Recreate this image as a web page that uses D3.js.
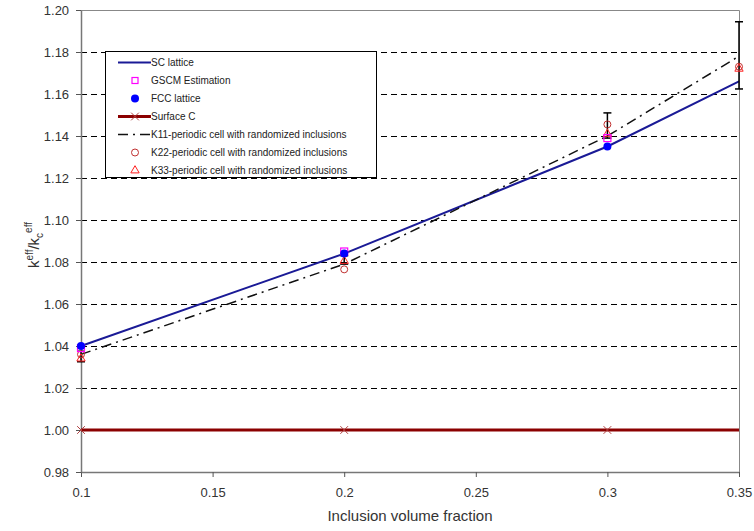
<!DOCTYPE html>
<html><head><meta charset="utf-8">
<script src="https://cdn.jsdelivr.net/npm/d3@7"></script>
<style>body{margin:0;background:#fff}svg{font-family:"Liberation Sans",Arial,sans-serif}</style>
</head><body><svg id="c" width="754" height="531"></svg>
<script>
const fractions = [0.1, 0.2, 0.3, 0.35];
const scLattice = [1.040, 1.084, 1.135, 1.166];
const gscmX = [0.1, 0.2, 0.3];
const gscm = [1.039, 1.085, 1.139];
const fccX = [0.1, 0.2, 0.3];
const fcc = [1.040, 1.084, 1.135];
const surfaceC = [1.000, 1.000, 1.000, 1.000];
const surfaceMarkX = [0.1, 0.2, 0.3];
const k11 = [1.036, 1.079, 1.140, 1.178];
const k22 = [1.036, 1.0765, 1.1455, 1.173];
const k33 = [1.034, 1.0805, 1.141, 1.172];
const errLow = [1.0325, 1.079, 1.139, 1.1624];
const errHigh = [1.0375, 1.083, 1.151, 1.1944];
const xTicks = [0.1, 0.15, 0.2, 0.25, 0.3, 0.35];
const yTicks = [0.98, 1.00, 1.02, 1.04, 1.06, 1.08, 1.10, 1.12, 1.14, 1.16, 1.18, 1.20];
const legendLabels = ["SC lattice", "GSCM Estimation", "FCC lattice", "Surface C",
  "K11-periodic cell with randomized inclusions", "K22-periodic cell with randomized inclusions",
  "K33-periodic cell with randomized inclusions"];

const svg = d3.select("#c");
const L = 81, R = 739, T = 10, B = 472;
const x = d3.scaleLinear().domain([0.1, 0.35]).range([L, R]);
const y = d3.scaleLinear().domain([0.98, 1.20]).range([B, T]);

// gridlines
svg.append("g").selectAll("line").data(yTicks.filter(v => v > 0.99 && v < 1.19)).join("line")
  .attr("x1", L).attr("x2", R).attr("y1", d => Math.round(y(d)) + 0.5).attr("y2", d => Math.round(y(d)) + 0.5)
  .attr("stroke", "#000").attr("stroke-width", 1).attr("stroke-dasharray", "6,4")
  .attr("shape-rendering", "crispEdges");
// frame top/right
svg.append("path").attr("d", `M${L},${T + 0.5}H${R + 0.5}V${B}`).attr("fill", "none").attr("stroke", "#888").attr("stroke-width", 1);

// axes
const xAxis = d3.axisBottom(x).tickValues(xTicks).tickFormat(d3.format("")).tickSize(5).tickSizeOuter(0);
const gx = svg.append("g").attr("transform", `translate(0,${B})`).call(xAxis);
const yAxis = d3.axisLeft(y).tickValues(yTicks).tickFormat(d3.format(".2f")).tickSize(5).tickSizeOuter(0);
const gy = svg.append("g").attr("transform", `translate(${L},0)`).call(yAxis);
[gx, gy].forEach(g => {
  g.select(".domain").attr("stroke", "#777").attr("stroke-width", 1.5);
  g.selectAll(".tick line").attr("stroke", "#555");
  g.selectAll(".tick text").attr("font-size", 13).attr("fill", "#333")
    .attr("font-family", "Liberation Sans, Arial, sans-serif");
});
gx.selectAll(".tick text").attr("dy", "1.3em");
gy.selectAll(".tick text").attr("dx", "-0.3em");

// Axis titles
svg.append("text").attr("x", 410).attr("y", 521).attr("text-anchor", "middle")
  .attr("font-size", 15).attr("fill", "#333").text("Inclusion volume fraction");
const yt = svg.append("text").attr("transform", "translate(39,245) rotate(-90)")
  .attr("text-anchor", "middle").attr("font-size", 15).attr("fill", "#333");
yt.append("tspan").text("k");
yt.append("tspan").attr("font-size", 10).attr("dy", -6).text("eff");
yt.append("tspan").attr("dy", 6).text("/k");
yt.append("tspan").attr("font-size", 10).attr("dy", 4).text("c");
yt.append("tspan").attr("font-size", 10).attr("dy", -11).text("eff");

// Surface C
const line = d3.line().x((d, i) => x(fractions[i])).y(d => y(d));
svg.append("path").attr("d", line(surfaceC)).attr("fill", "none").attr("stroke", "#8b0000").attr("stroke-width", 3);
const xMark = d3.symbol().type(d3.symbolX).size(40);
svg.append("g").selectAll("path").data(surfaceMarkX).join("path")
  .attr("transform", d => `translate(${x(d)},${y(1.0)})`).attr("d", xMark())
  .attr("fill", "none").attr("stroke", "#b04040").attr("stroke-width", 1);

// SC lattice
svg.append("path").attr("d", line(scLattice)).attr("fill", "none").attr("stroke", "#1a1a96").attr("stroke-width", 2);
// K11
svg.append("path").attr("d", line(k11)).attr("fill", "none").attr("stroke", "#111").attr("stroke-width", 1.5)
  .attr("stroke-dasharray", "10,5,2,5");

// error bars
const eb = svg.append("g").attr("stroke", "#000").attr("stroke-width", 1.5);
fractions.forEach((f, i) => {
  eb.append("line").attr("x1", x(f)).attr("x2", x(f)).attr("y1", y(errLow[i])).attr("y2", y(errHigh[i]));
  [errLow[i], errHigh[i]].forEach(v => eb.append("line").attr("x1", x(f) - 4).attr("x2", x(f) + 4).attr("y1", y(v)).attr("y2", y(v)));
});

// markers
const tri = d3.symbol().type(d3.symbolTriangle).size(30);
svg.append("g").selectAll("path").data(k33).join("path")
  .attr("transform", (d, i) => `translate(${x(fractions[i])},${y(d)})`).attr("d", tri())
  .attr("fill", "none").attr("stroke", "#ff2020").attr("stroke-width", 1);
svg.append("g").selectAll("circle").data(k22).join("circle")
  .attr("cx", (d, i) => x(fractions[i])).attr("cy", d => y(d)).attr("r", 3.5)
  .attr("fill", "none").attr("stroke", "#c03030").attr("stroke-width", 1);
svg.append("g").selectAll("rect").data(gscm).join("rect")
  .attr("x", (d, i) => x(gscmX[i]) - 3.5).attr("y", d => y(d) - 3.5).attr("width", 7).attr("height", 7)
  .attr("fill", "none").attr("stroke", "#ff00ff").attr("stroke-width", 1.2);
svg.append("g").selectAll("circle").data(fcc).join("circle")
  .attr("cx", (d, i) => x(fccX[i])).attr("cy", d => y(d)).attr("r", 4)
  .attr("fill", "#0000ff");

// legend
const lg = svg.append("g");
lg.append("rect").attr("x", 105.5).attr("y", 51.5).attr("width", 271).attr("height", 126)
  .attr("fill", "#fff").attr("stroke", "#000").attr("stroke-width", 1);
const ly = i => 62.5 + i * 18;
legendLabels.forEach((t, i) => {
  lg.append("text").attr("x", 151).attr("y", ly(i) + 3.5).attr("font-size", 10).attr("fill", "#222").text(t);
});
lg.append("line").attr("x1", 118).attr("x2", 151).attr("y1", ly(0)).attr("y2", ly(0)).attr("stroke", "#1a1a96").attr("stroke-width", 2);
lg.append("rect").attr("x", 132).attr("y", ly(1) - 3).attr("width", 6).attr("height", 6).attr("fill", "none").attr("stroke", "#ff00ff").attr("stroke-width", 1.2);
lg.append("circle").attr("cx", 135).attr("cy", ly(2)).attr("r", 4).attr("fill", "#0000ff");
lg.append("line").attr("x1", 118).attr("x2", 151).attr("y1", ly(3)).attr("y2", ly(3)).attr("stroke", "#8b0000").attr("stroke-width", 3);
lg.append("path").attr("transform", `translate(135,${ly(3)})`).attr("d", xMark()).attr("stroke", "#b04040").attr("fill", "none");
lg.append("line").attr("x1", 118).attr("x2", 151).attr("y1", ly(4)).attr("y2", ly(4)).attr("stroke", "#111").attr("stroke-width", 1.5).attr("stroke-dasharray", "10,5,2,5");
lg.append("circle").attr("cx", 135).attr("cy", ly(5)).attr("r", 3.5).attr("fill", "none").attr("stroke", "#c03030");
lg.append("path").attr("transform", `translate(135,${ly(6)})`).attr("d", tri()).attr("fill", "none").attr("stroke", "#ff2020");
</script></body></html>
